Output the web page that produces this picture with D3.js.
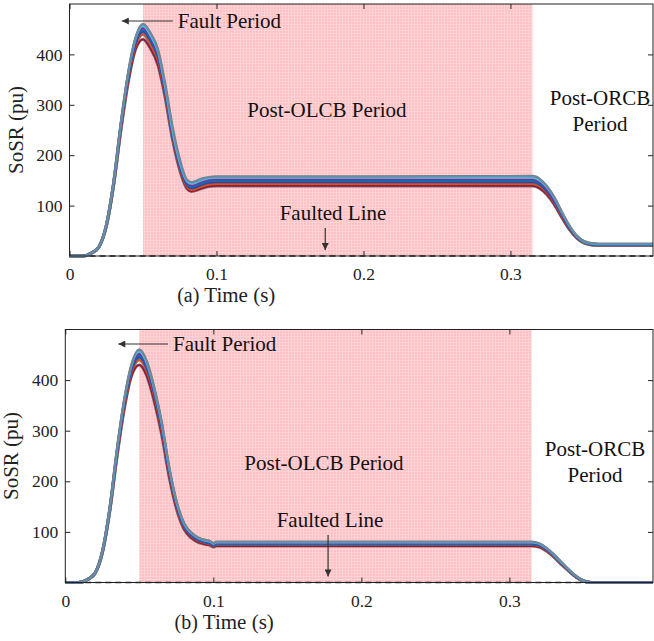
<!DOCTYPE html>
<html>
<head>
<meta charset="utf-8">
<script src="https://cdn.jsdelivr.net/npm/d3@7"></script>
<style>
  body { margin: 0; background: #fff; }
  svg { display: block; font-family: "Liberation Serif", "Times New Roman", serif; }
  .tick text { font-size: 17.5px; fill: #222; font-family: "Liberation Serif", "Times New Roman", serif; }
  .domain { display: none; }
  .tick line { stroke: #222; }
</style>
</head>
<body>
<div id="chart"></div>
<script>
// time axes (s)
const timeA = [0, 0.009, 0.015, 0.02, 0.025, 0.03, 0.035, 0.04, 0.045, 0.05, 0.055, 0.06, 0.065, 0.07, 0.075, 0.08, 0.083, 0.086, 0.09, 0.095, 0.1, 0.2, 0.315, 0.32, 0.325, 0.33, 0.335, 0.34, 0.345, 0.35, 0.355, 0.36, 0.397]
const timeB = [0, 0.009, 0.015, 0.02, 0.025, 0.03, 0.035, 0.04, 0.045, 0.05, 0.055, 0.06, 0.065, 0.07, 0.075, 0.08, 0.085, 0.09, 0.095, 0.098, 0.1, 0.102, 0.2, 0.315, 0.32, 0.325, 0.33, 0.335, 0.34, 0.345, 0.35, 0.355, 0.397]

// SoSR (pu), panel (a)
const sosrA = [
  [0,0,6,18,58,140,250,345,410,430,412,380,315,232,170,133,128,130,134,138,139,139,139,134,121,101,76,53,36,26,22,21,21],
  [0,0,6,18,59,141,253,349,416,440,421,389,320,235,173,136,131,133,138,142,143,143,143,138,125,104,78,55,37,26,23,22,22],
  [0,0,6,18,59,142,255,352,420,445,426,394,324,238,176,139,134,136,141,145,146,146,146,141,127,106,80,56,37,27,23,22,22],
  [0,0,6,18,59,143,257,355,424,448,429,398,327,241,178,141,137,139,144,148,149,149,149,143,130,108,81,56,38,27,23,22,22],
  [0,0,6,18,60,144,259,358,427,452,433,401,331,244,181,144,140,142,147,151,152,152,152,146,132,110,83,58,38,28,24,23,23],
  [0,0,6,18,60,144,260,360,430,456,437,405,334,247,184,147,143,145,150,154,155,155,155,149,135,113,85,59,39,28,24,23,23],
  [0,0,6,18,60,145,262,362,432,460,442,410,340,255,190,150,146,148,153,156,157,157,158,152,137,115,86,60,40,29,25,24,24]
]

// SoSR (pu), panel (b)
const sosrB = [
  [0,0,6,18,58,140,250,345,410,430,408,358,293,210,146,106,88,79,75,73,70,72,72,72,70,62,50,36,23,11,3,0,0],
  [0,0,6,18,59,141,253,349,416,440,418,367,300,215,150,109,91,82,77,75,71,74,74,74,72,63,51,37,23,11,3,0,0],
  [0,0,6,18,59,142,255,352,420,445,422,371,304,218,152,110,92,83,78,76,72,75,75,75,73,64,52,38,24,11,3,0,0],
  [0,0,6,18,59,143,257,355,424,448,425,374,307,221,154,112,93,84,79,77,73,76,76,76,74,65,53,38,24,11,3,0,0],
  [0,0,6,18,60,144,259,358,427,452,429,378,310,223,156,114,95,86,81,79,75,78,78,78,75,66,54,39,24,12,3,0,0],
  [0,0,6,18,60,144,260,360,430,456,432,381,313,226,158,116,97,87,82,80,76,79,79,79,76,67,54,39,25,12,3,0,0],
  [0,0,6,18,60,145,262,362,432,460,436,384,316,228,160,118,98,88,83,81,77,80,80,80,77,68,55,40,25,12,3,0,0]
]

const lineColors = ['#A2142F', '#D95319', '#3B3F9E', '#0072BD', '#7E2F8E', '#4DBEEE', '#6A8CA0']
const faultedLine = [0, 0]
const shadeSpan = [0.05, 0.315]
const xTicks = [0, 0.1, 0.2, 0.3]
const yTicks = [100, 200, 300, 400]

const width = 654, height = 641

const svg = d3.select('#chart').append('svg')
  .attr('width', width)
  .attr('height', height)

const defs = svg.append('defs')
const pat = defs.append('pattern')
  .attr('id', 'pinkgrid')
  .attr('patternUnits', 'userSpaceOnUse')
  .attr('width', 3).attr('height', 3)
pat.append('rect').attr('width', 3).attr('height', 3).attr('fill', '#ffc0c4')
pat.append('rect').attr('width', 3).attr('height', 1).attr('fill', '#ffd3d5')
pat.append('rect').attr('width', 1).attr('height', 3).attr('fill', '#ffd3d5')

defs.append('marker')
  .attr('id', 'arrow')
  .attr('viewBox', '0 0 10 10')
  .attr('refX', 10).attr('refY', 5)
  .attr('markerWidth', 9).attr('markerHeight', 7)
  .attr('markerUnits', 'userSpaceOnUse')
  .attr('orient', 'auto')
  .append('path')
  .attr('d', 'M0,0 L10,5 L0,10 Z')
  .attr('fill', '#333')

function drawPanel(opts) {
  const { left, right, top, bottom, time, series, label, notes } = opts
  const xMax = 0.397
  const x = d3.scaleLinear().domain([0, xMax]).range([left, right])
  const y = d3.scaleLinear().domain([0, 500]).range([bottom, top])
  const g = svg.append('g')

  g.append('rect')
    .attr('x', x(shadeSpan[0]))
    .attr('y', top)
    .attr('width', x(shadeSpan[1]) - x(shadeSpan[0]))
    .attr('height', bottom - top)
    .attr('fill', 'url(#pinkgrid)')

  // faulted line, sits on zero
  g.append('line')
    .attr('x1', x(0)).attr('x2', x(xMax))
    .attr('y1', y(faultedLine[0])).attr('y2', y(faultedLine[1]))
    .attr('stroke', '#222')
    .attr('stroke-width', 1.6)
    .attr('stroke-dasharray', '6,4')

  const line = d3.line()
    .x((d, i) => x(time[i]))
    .y(d => y(d))
    .curve(d3.curveMonotoneX)

  g.selectAll('.outline')
    .data(series)
    .join('path')
    .attr('class', 'outline')
    .attr('d', line)
    .attr('fill', 'none')
    .attr('stroke', '#767c86')
    .attr('stroke-width', 3)

  g.selectAll('.sosr')
    .data(series)
    .join('path')
    .attr('class', 'sosr')
    .attr('d', line)
    .attr('fill', 'none')
    .attr('stroke', (d, i) => lineColors[i])
    .attr('stroke-width', 1.7)

  // axes with ticks pointing inward on all four sides
  g.append('g')
    .attr('transform', `translate(0,${bottom})`)
    .call(d3.axisBottom(x).tickValues(xTicks).tickSize(-5).tickPadding(12).tickFormat(d => String(d)))
  g.append('g')
    .attr('transform', `translate(0,${top})`)
    .call(d3.axisTop(x).tickValues(xTicks).tickSize(-5).tickFormat(''))
  g.append('g')
    .attr('transform', `translate(${left},0)`)
    .call(d3.axisLeft(y).tickValues(yTicks).tickSize(-5).tickPadding(7))
  g.append('g')
    .attr('transform', `translate(${right},0)`)
    .call(d3.axisRight(y).tickValues(yTicks).tickSize(-5).tickFormat(''))

  g.append('rect')
    .attr('x', left).attr('y', top)
    .attr('width', right - left).attr('height', bottom - top)
    .attr('fill', 'none')
    .attr('stroke', '#222')
    .attr('stroke-width', 1)

  g.append('text')
    .attr('transform', `translate(${left - 47},${(top + bottom) / 2}) rotate(-90)`)
    .attr('text-anchor', 'middle')
    .attr('font-size', 21)
    .attr('fill', '#222')
    .text('SoSR (pu)')

  const xl = g.append('text')
    .attr('x', (left + right) / 2 - 135)
    .attr('y', bottom + 46)
    .attr('text-anchor', 'middle')
    .attr('font-size', 20)
    .attr('fill', '#222')
  xl.append('tspan').text(label + ' ')
  xl.append('tspan').attr('font-size', 21).text('Time (s)')

  // annotations
  const a = notes
  g.append('line')
    .attr('x1', x(a.faultArrow[0])).attr('x2', x(a.faultArrow[1]))
    .attr('y1', a.faultY).attr('y2', a.faultY)
    .attr('stroke', '#333').attr('stroke-width', 1.2)
    .attr('marker-end', 'url(#arrow)')
  g.append('text')
    .attr('x', x(a.faultArrow[0]) + 5).attr('y', a.faultY + 7)
    .attr('font-size', 21).attr('fill', '#111')
    .text('Fault Period')

  g.append('text')
    .attr('x', a.olcb[0]).attr('y', a.olcb[1])
    .attr('text-anchor', 'middle')
    .attr('font-size', 21).attr('fill', '#111')
    .text('Post-OLCB Period')

  const orcb = g.append('text')
    .attr('text-anchor', 'middle')
    .attr('font-size', 21).attr('fill', '#111')
  orcb.append('tspan').attr('x', a.orcb[0]).attr('y', a.orcb[1]).text('Post-ORCB')
  orcb.append('tspan').attr('x', a.orcb[0]).attr('y', a.orcb[1] + 26).text('Period')

  g.append('text')
    .attr('x', a.faulted[0]).attr('y', a.faulted[1])
    .attr('text-anchor', 'middle')
    .attr('font-size', 21).attr('fill', '#111')
    .text('Faulted Line')
  g.append('line')
    .attr('x1', x(a.faultedAt)).attr('x2', x(a.faultedAt))
    .attr('y1', a.faulted[1] + 8).attr('y2', y(0) - 6)
    .attr('stroke', '#333').attr('stroke-width', 1.2)
    .attr('marker-end', 'url(#arrow)')
}

drawPanel({
  left: 69.5, right: 653, top: 4, bottom: 256,
  time: timeA, series: sosrA, label: '(a)',
  notes: {
    faultArrow: [0.0703, 0.0356], faultY: 21,
    olcb: [327, 117], orcb: [600, 105],
    faulted: [333, 220], faultedAt: 0.174
  }
})

drawPanel({
  left: 65.3, right: 653, top: 329.5, bottom: 582.5,
  time: timeB, series: sosrB, label: '(b)',
  notes: {
    faultArrow: [0.0694, 0.0358], faultY: 344,
    olcb: [324, 470], orcb: [595, 456],
    faulted: [330, 527], faultedAt: 0.1775
  }
})
</script>
</body>
</html>
